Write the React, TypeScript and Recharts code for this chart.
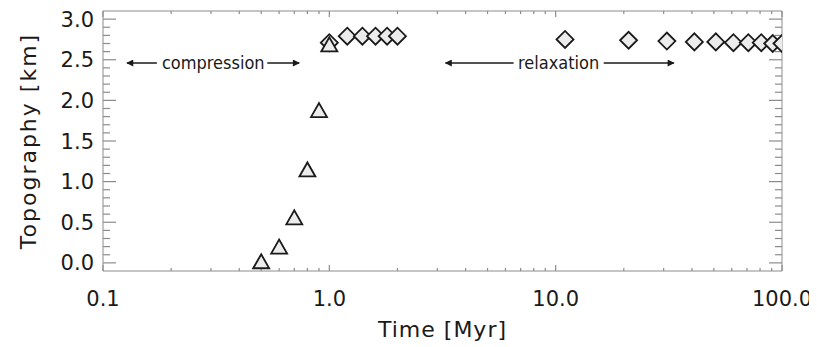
import React from 'react';
import {
  ScatterChart,
  Scatter,
  XAxis,
  YAxis,
  ReferenceLine,
  ReferenceDot,
  Label,
} from 'recharts';

// compression phase (triangles)
const COMP_TIME = [0.5, 0.6, 0.7, 0.8, 0.9, 1.0];
const COMP_TOPO = [0.02, 0.2, 0.56, 1.15, 1.88, 2.69];

// relaxation phase (diamonds)
const RELAX_TIME = [1.0, 1.2, 1.4, 1.6, 1.8, 2.0, 11, 21, 31, 41, 51, 61, 71, 81, 91, 100];
const RELAX_TOPO = [2.71, 2.79, 2.79, 2.79, 2.79, 2.79, 2.75, 2.74, 2.73, 2.72, 2.72, 2.71, 2.71, 2.71, 2.7, 2.7];

const X_MAJOR = [0.1, 1, 10, 100];
const X_MINOR = [0.2, 0.3, 0.4, 0.5, 0.6, 0.7, 0.8, 0.9, 2, 3, 4, 5, 6, 7, 8, 9, 20, 30, 40, 50, 60, 70, 80, 90];
const Y_MAJOR = [0, 0.5, 1, 1.5, 2, 2.5, 3];
const Y_MINOR = [0.1, 0.2, 0.3, 0.4, 0.6, 0.7, 0.8, 0.9, 1.1, 1.2, 1.3, 1.4, 1.6, 1.7, 1.8, 1.9, 2.1, 2.2, 2.3, 2.4, 2.6, 2.7, 2.8, 2.9];

const compData = COMP_TIME.map((t, i) => ({ t, h: COMP_TOPO[i] }));
const relaxData = RELAX_TIME.map((t, i) => ({ t, h: RELAX_TOPO[i] }));

const X_DOMAIN: [number, number] = [0.1, 100];
const Y_DOMAIN: [number, number] = [-0.1, 3.1];

const AXIS = '#8c8c8c';
const INK = '#1a1a1a';
const FILL = '#ececec';
const FONT = "'DejaVu Sans', sans-serif";
const NOTE_FONT = "'DejaVu Sans Condensed', 'Liberation Sans Narrow', 'DejaVu Sans', sans-serif";

const fmtX = (v: number) => (v < 1 ? String(v) : v.toFixed(1));

function Triangle(p: any) {
  const { cx, cy } = p;
  const w = 8;
  const h = 7;
  return (
    <polygon
      points={`${cx - w},${cy + h} ${cx},${cy - h} ${cx + w},${cy + h}`}
      fill={FILL}
      stroke={INK}
      strokeWidth={1.8}
    />
  );
}

function Diamond(p: any) {
  const { cx, cy } = p;
  const r = 8.5;
  return (
    <polygon
      points={`${cx - r},${cy} ${cx},${cy - r} ${cx + r},${cy} ${cx},${cy + r}`}
      fill={FILL}
      stroke={INK}
      strokeWidth={1.8}
    />
  );
}

// tick labels only; tick marks are drawn inward by the reference lines below
function XLabel(props: any) {
  const v = props.payload.value;
  return (
    <text x={props.x} y={Number(props.y) + 35} textAnchor="middle" fontSize={21} fontFamily={FONT} fill={INK}>
      {fmtX(v)}
    </text>
  );
}

function YLabel(props: any) {
  const v = props.payload.value;
  return (
    <text x={Number(props.x) - 9} y={props.y} dy="0.36em" textAnchor="end" fontSize={21} fontFamily={FONT} fill={INK}>
      {v.toFixed(1)}
    </text>
  );
}

// inward ticks on left + right edges
const yTickShape = (len: number) => (p: any) => {
  const l = Math.min(p.x1, p.x2);
  const r = Math.max(p.x1, p.x2);
  return (
    <g>
      <line x1={l} x2={l + len} y1={p.y1} y2={p.y1} stroke={AXIS} strokeWidth={1.2} />
      <line x1={r - len} x2={r} y1={p.y1} y2={p.y1} stroke={AXIS} strokeWidth={1.2} />
    </g>
  );
};

// inward ticks on bottom + top edges
const xTickShape = (len: number) => (p: any) => {
  const t = Math.min(p.y1, p.y2);
  const b = Math.max(p.y1, p.y2);
  return (
    <g>
      <line x1={p.x1} x2={p.x1} y1={b} y2={b - len} stroke={AXIS} strokeWidth={1.2} />
      <line x1={p.x1} x2={p.x1} y1={t} y2={t + len} stroke={AXIS} strokeWidth={1.2} />
    </g>
  );
};

function Note(text: string) {
  return (p: any) => (
    <text
      x={p.cx}
      y={p.cy}
      dy="0.32em"
      textAnchor="middle"
      fontSize={18}
      fontFamily={NOTE_FONT}
      fill={INK}
    >
      {text}
    </text>
  );
}

const ARROW_Y = 2.46;

export default function App() {
  return (
    <ScatterChart
      width={809}
      height={339}
      margin={{ top: 3, right: 35, bottom: 6, left: 5 }}
      style={{ overflow: 'visible' }}
    >
      <defs>
        <marker
          id="arrowHead"
          viewBox="0 0 10 10"
          refX="9"
          refY="5"
          markerUnits="userSpaceOnUse"
          markerWidth="9"
          markerHeight="7"
          orient="auto-start-reverse"
        >
          <path d="M0,0 L10,5 L0,10 z" fill={INK} />
        </marker>
      </defs>
      <XAxis
        xAxisId="b"
        dataKey="t"
        type="number"
        scale="log"
        domain={X_DOMAIN}
        allowDataOverflow
        ticks={X_MAJOR}
        interval={0}
        tickSize={0}
        tickMargin={0}
        tickLine={false}
        tick={XLabel}
        axisLine={{ stroke: AXIS }}
        height={70}
      >
        <Label
          value="Time [Myr]"
          position="insideBottom"
          offset={4}
          style={{ fontSize: 22, fontFamily: FONT, fill: INK, letterSpacing: 1 }}
        />
      </XAxis>
      <YAxis
        yAxisId="l"
        dataKey="h"
        type="number"
        domain={Y_DOMAIN}
        allowDataOverflow
        ticks={Y_MAJOR}
        interval={0}
        tickSize={0}
        tickMargin={0}
        tickLine={false}
        tick={YLabel}
        axisLine={{ stroke: AXIS }}
        width={90}
      >
        <Label
          value="Topography [km]"
          angle={-90}
          position="insideLeft"
          offset={15}
          style={{ fontSize: 22, fontFamily: FONT, fill: INK, textAnchor: 'middle', letterSpacing: 2 }}
        />
      </YAxis>

      {/* box: top and right edges */}
      <ReferenceLine xAxisId="b" yAxisId="l" y={Y_DOMAIN[1]} stroke={AXIS} strokeWidth={1} />
      <ReferenceLine xAxisId="b" yAxisId="l" x={X_DOMAIN[1]} stroke={AXIS} strokeWidth={1} />

      {Y_MAJOR.map((v) => (
        <ReferenceLine key={`ym${v}`} xAxisId="b" yAxisId="l" y={v} shape={yTickShape(13)} />
      ))}
      {Y_MINOR.map((v) => (
        <ReferenceLine key={`yn${v}`} xAxisId="b" yAxisId="l" y={v} shape={yTickShape(7)} />
      ))}
      {X_MAJOR.map((v) => (
        <ReferenceLine key={`xm${v}`} xAxisId="b" yAxisId="l" x={v} shape={xTickShape(6)} />
      ))}
      {X_MINOR.map((v) => (
        <ReferenceLine key={`xn${v}`} xAxisId="b" yAxisId="l" x={v} shape={xTickShape(3)} />
      ))}

      <ReferenceLine
        xAxisId="b"
        yAxisId="l"
        segment={[{ x: 0.1276, y: ARROW_Y }, { x: 0.173, y: ARROW_Y }]}
        stroke={INK}
        strokeWidth={1.5}
        markerStart="url(#arrowHead)"
      />
      <ReferenceLine
        xAxisId="b"
        yAxisId="l"
        segment={[{ x: 0.532, y: ARROW_Y }, { x: 0.736, y: ARROW_Y }]}
        stroke={INK}
        strokeWidth={1.5}
        markerEnd="url(#arrowHead)"
      />
      <ReferenceDot xAxisId="b" yAxisId="l" x={0.307} y={ARROW_Y} r={0} shape={Note('compression')} />

      <ReferenceLine
        xAxisId="b"
        yAxisId="l"
        segment={[{ x: 3.26, y: ARROW_Y }, { x: 6.52, y: ARROW_Y }]}
        stroke={INK}
        strokeWidth={1.5}
        markerStart="url(#arrowHead)"
      />
      <ReferenceLine
        xAxisId="b"
        yAxisId="l"
        segment={[{ x: 16.3, y: ARROW_Y }, { x: 33.3, y: ARROW_Y }]}
        stroke={INK}
        strokeWidth={1.5}
        markerEnd="url(#arrowHead)"
      />
      <ReferenceDot xAxisId="b" yAxisId="l" x={10.3} y={ARROW_Y} r={0} shape={Note('relaxation')} />

      <Scatter
        name="relaxation"
        xAxisId="b"
        yAxisId="l"
        data={relaxData}
        shape={Diamond}
        isAnimationActive={false}
      />
      <Scatter
        name="compression"
        xAxisId="b"
        yAxisId="l"
        data={compData}
        shape={Triangle}
        isAnimationActive={false}
      />
    </ScatterChart>
  );
}
